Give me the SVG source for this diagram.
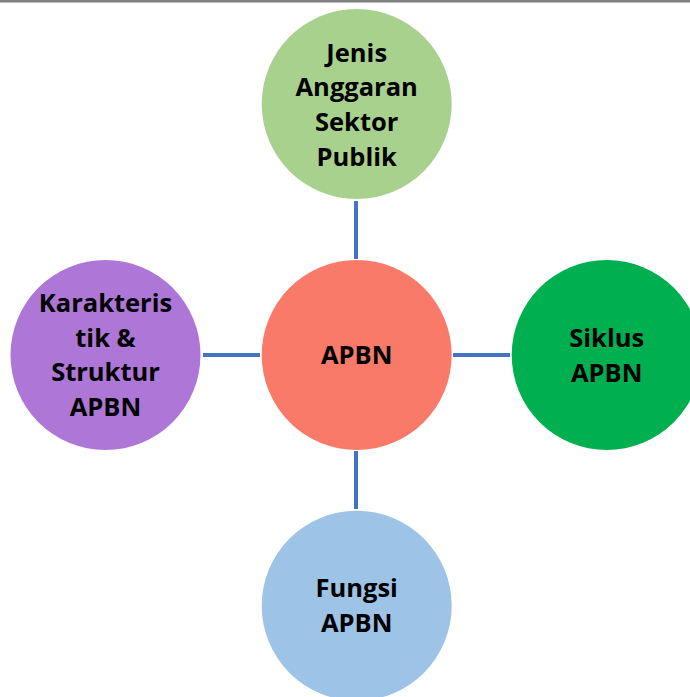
<svg xmlns="http://www.w3.org/2000/svg" width="690" height="697" viewBox="0 0 690 697">
<style>
.t{font-family:"Open Sans","Noto Sans","Liberation Sans",sans-serif;font-weight:bold;font-size:25.5px;fill:#000;text-anchor:middle}
.c{stroke:#4472C4;stroke-width:4;fill:none}
</style>
<rect x="0" y="0" width="690" height="2.5" fill="#7f7f7f"/>
<g id="connectors">
<line class="c" x1="356" y1="201" x2="356" y2="259"/>
<line class="c" x1="203" y1="355" x2="260" y2="355"/>
<line class="c" x1="453" y1="355" x2="510" y2="355"/>
<line class="c" x1="356" y1="451" x2="356" y2="509"/>
</g>
<g id="top">
<circle cx="356.7" cy="104" r="95" fill="#A9D18E"/>
<text class="t" x="356.7" y="62">Jenis</text>
<text class="t" x="356.7" y="96">Anggaran</text>
<text class="t" x="356.7" y="131">Sektor</text>
<text class="t" x="356.7" y="166">Publik</text>
</g>
<g id="center">
<circle cx="356.7" cy="355" r="95" fill="#FA7A69"/>
<text class="t" x="356.7" y="364">APBN</text>
</g>
<g id="left">
<circle cx="105.5" cy="355" r="95" fill="#AE76D6"/>
<text class="t" x="105.5" y="312">Karakteris</text>
<text class="t" x="105.5" y="347">tik &amp;</text>
<text class="t" x="105.5" y="381">Struktur</text>
<text class="t" x="105.5" y="416">APBN</text>
</g>
<g id="right">
<circle cx="606.7" cy="355" r="95" fill="#00B050"/>
<text class="t" x="606.7" y="347">Siklus</text>
<text class="t" x="606.7" y="382">APBN</text>
</g>
<g id="bottom">
<circle cx="356.7" cy="605.7" r="95" fill="#9DC3E6"/>
<text class="t" x="356.7" y="597">Fungsi</text>
<text class="t" x="356.7" y="632">APBN</text>
</g>
</svg>
